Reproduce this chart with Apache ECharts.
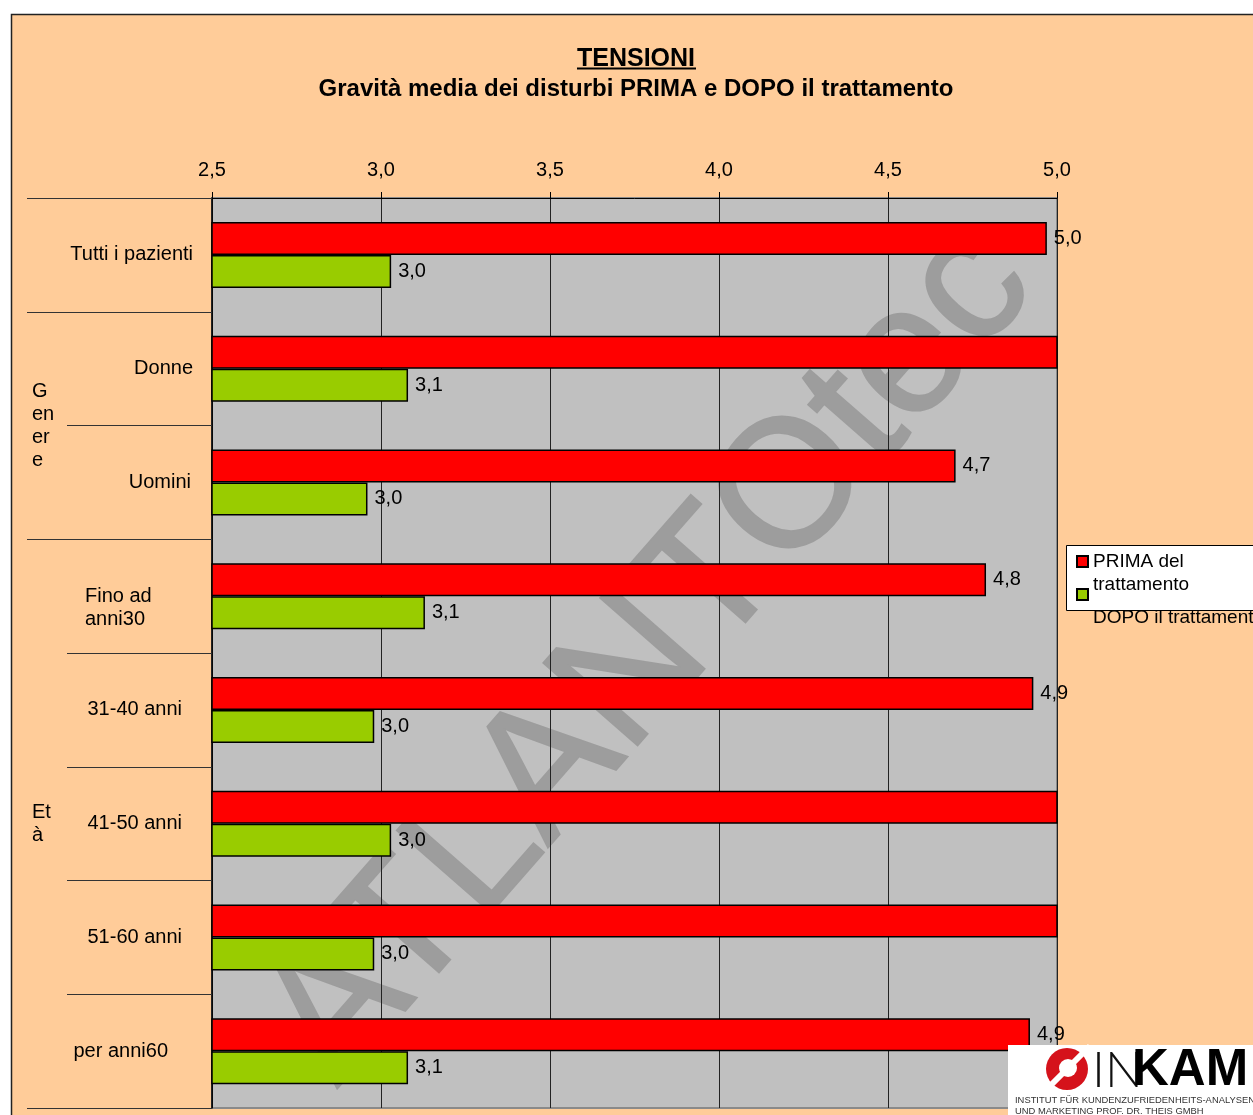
<!DOCTYPE html>
<html>
<head>
<meta charset="utf-8">
<script src="https://cdn.jsdelivr.net/npm/echarts@6/dist/echarts.min.js"></script>
<style>
html,body{margin:0;padding:0;background:#fff;}
#chart{width:1253px;height:1115px;}
</style>
</head>
<body>
<div id="chart"></div>
<script>
// ---- data ----
const categories = ['Tutti i pazienti', 'Donne', 'Uomini', 'Fino ad\nanni30', '31-40 anni', '41-50 anni', '51-60 anni', 'per anni60'];
const prima = [4.97, 5.1, 4.70, 4.79, 4.93, 5.1, 5.1, 4.92];
const dopo  = [3.03, 3.08, 2.96, 3.13, 2.98, 3.03, 2.98, 3.08];
const seriesNames = ['PRIMA del trattamento', 'DOPO il trattamento'];
const groupLabels = ['', 'G\nen\ner\ne', 'Et\nà'];
const groupSizes = [1, 2, 5];
const axisMin = 2.5, axisMax = 5.0, axisStep = 0.5;
const titleText = 'TENSIONI';
const subtitleText = 'Gravità media dei disturbi PRIMA e DOPO il trattamento';

// ---- layout ----
const FONT = '"Liberation Sans", Arial, sans-serif';
const GL = 212, GT = 198, GW = 845, GH = 910;
const labelPad = [0, 0, 2, 38, 11, 11, 11, 25];
const labelPadTop = [0, 0, 0, 23, 0, 0, 0, 0];
const leftAlignedLabel = 3;

const fmt = v => v.toFixed(1).replace('.', ',');

const chart = echarts.init(document.getElementById('chart'), null, {renderer: 'canvas'});

const band = GH / categories.length;
const graphics = [];
// background frame
graphics.push({type: 'rect', z: -10, shape: {x: 11.5, y: 14.5, width: 1400, height: 1300},
  style: {fill: '#FFCC99', stroke: '#222', lineWidth: 1.5}});
// title underline
graphics.push({type: 'line', z: 5, shape: {x1: 577, y1: 68.5, x2: 696, y2: 68.5}, style: {stroke: '#000', lineWidth: 2}});
// group separators (extensions to the left) and group labels
let cum = 0;
const bounds = [0];
groupSizes.forEach(s => { cum += s; bounds.push(cum); });
bounds.forEach(b => {
  const y = Math.round(GT + b * band) + 0.5;
  graphics.push({type: 'line', z: 5, shape: {x1: 27, y1: y, x2: 68, y2: y}, style: {stroke: '#333', lineWidth: 1}});
});
groupLabels.forEach((g, i) => {
  if (!g) return;
  const yc = GT + (bounds[i] + bounds[i + 1]) / 2 * band;
  graphics.push({type: 'text', z: 5, x: 32, y: yc, style: {text: g, font: '20px ' + FONT, fill: '#000',
    lineHeight: 23, textAlign: 'left', textVerticalAlign: 'middle'}});
});
// watermark
graphics.push({type: 'text', z: 1, x: 650, y: 655, rotation: 48.8 * Math.PI / 180, silent: true,
  style: {text: 'ATLANTOtec', font: '182px ' + FONT, fill: '#9d9d9d', stroke: '#9d9d9d', lineWidth: 2,
    textAlign: 'center', textVerticalAlign: 'middle'}});
// legend box
graphics.push({type: 'rect', z: 3, shape: {x: 1066.5, y: 545.5, width: 260, height: 65},
  style: {fill: '#fff', stroke: '#000', lineWidth: 1}});
// logo
graphics.push({type: 'rect', z: 20, shape: {x: 1008, y: 1045, width: 260, height: 80}, style: {fill: '#fff'}});
graphics.push({type: 'circle', z: 21, shape: {cx: 1067, cy: 1069, r: 21}, style: {fill: '#D5121B'}});
graphics.push({type: 'line', z: 22, shape: {x1: 1046, y1: 1090, x2: 1090, y2: 1046}, style: {stroke: '#fff', lineWidth: 6}});
graphics.push({type: 'circle', z: 22, shape: {cx: 1068, cy: 1068, r: 9}, style: {fill: '#fff'}});
graphics.push({type: 'text', z: 21, x: 1092, y: 1071, style: {text: 'IN', font: '300 50px Lato, ' + FONT, fill: '#111', textVerticalAlign: 'middle'}});
graphics.push({type: 'text', z: 21, x: 1132, y: 1071, style: {text: 'KAM', font: 'bold 51px ' + FONT, fill: '#000', textVerticalAlign: 'middle'}});
graphics.push({type: 'text', z: 21, x: 1015, y: 1100, style: {text: 'INSTITUT FÜR KUNDENZUFRIEDENHEITS-ANALYSEN', font: '9.4px ' + FONT, fill: '#333', textVerticalAlign: 'middle'}});
graphics.push({type: 'text', z: 21, x: 1015, y: 1111, style: {text: 'UND MARKETING PROF. DR. THEIS GMBH', font: '9.4px ' + FONT, fill: '#333', textVerticalAlign: 'middle'}});

const labelOpt = {
  show: true, position: 'right', distance: 7, fontSize: 20, fontFamily: FONT, color: '#000',
  formatter: p => (p.value > axisMax ? '' : fmt(p.value))
};

const option = {
  backgroundColor: 'transparent',
  animation: false,
  textStyle: {fontFamily: FONT},
  title: [
    {text: titleText, left: 631, top: 42, textAlign: 'center',
      textStyle: {fontSize: 25, fontWeight: 'bold', color: '#000', fontFamily: FONT}},
    {text: subtitleText, left: 631, top: 72, textAlign: 'center',
      textStyle: {fontSize: 24, fontWeight: 'bold', color: '#000', fontFamily: FONT}}
  ],
  legend: [
    {data: [seriesNames[0]], orient: 'vertical', left: 1076, top: 527, padding: 0, icon: 'rect',
      itemWidth: 11, itemHeight: 11, selectedMode: false,
      formatter: () => ' \nPRIMA del\ntrattamento',
      textStyle: {fontSize: 19, lineHeight: 23, color: '#000', fontFamily: FONT}},
    {data: [seriesNames[1]], orient: 'vertical', left: 1076, top: 560, padding: 0, icon: 'rect',
      itemWidth: 11, itemHeight: 11, selectedMode: false,
      formatter: () => ' \n \nDOPO il trattamento',
      textStyle: {fontSize: 19, lineHeight: 23, color: '#000', fontFamily: FONT}}
  ],
  grid: {left: GL, top: GT, width: GW, height: GH, show: true, backgroundColor: '#C0C0C0',
    borderColor: '#8a8a8a', borderWidth: 2, containLabel: false},
  xAxis: {
    type: 'value', position: 'top', min: axisMin, max: axisMax, interval: axisStep, z: 1.5,
    axisLine: {show: true, lineStyle: {color: '#000', width: 1}},
    axisTick: {show: true, length: 6, lineStyle: {color: '#000'}},
    axisLabel: {fontSize: 20, color: '#000', margin: 18, fontFamily: FONT, formatter: v => fmt(v)},
    splitLine: {show: true, lineStyle: {color: '#222', width: 1}}
  },
  yAxis: {
    type: 'category', inverse: true, z: 1.5,
    data: categories.map((c, i) => ({value: c, textStyle: {padding: [labelPadTop[i], labelPad[i], 0, 0]}})),
    axisLine: {show: true, lineStyle: {color: '#000', width: 1.5}},
    axisTick: {show: true, length: 145, interval: 0, lineStyle: {color: '#333', width: 1}},
    axisLabel: {fontSize: 20, color: '#000', margin: 19, fontFamily: FONT, lineHeight: 23, interval: 0,
      formatter: (v, i) => (i === leftAlignedLabel ? v.split('\n').map(s => '{l|' + s + '}').join('\n') : v),
      rich: {l: {width: 70, align: 'left', fontSize: 20, lineHeight: 23, fontFamily: FONT, color: '#000'}}},
    splitLine: {show: false}
  },
  series: [
    {name: seriesNames[0], type: 'bar', data: prima, barWidth: 33, barGap: '0%', z: 2,
      itemStyle: {color: '#FF0000', borderColor: '#000', borderWidth: 1.5}, label: labelOpt},
    {name: seriesNames[1], type: 'bar', data: dopo, barWidth: 33, barGap: '0%', z: 2,
      itemStyle: {color: '#99CC00', borderColor: '#000', borderWidth: 1.5}, label: labelOpt}
  ],
  graphic: {elements: graphics}
};
chart.setOption(option);
</script>
</body>
</html>
